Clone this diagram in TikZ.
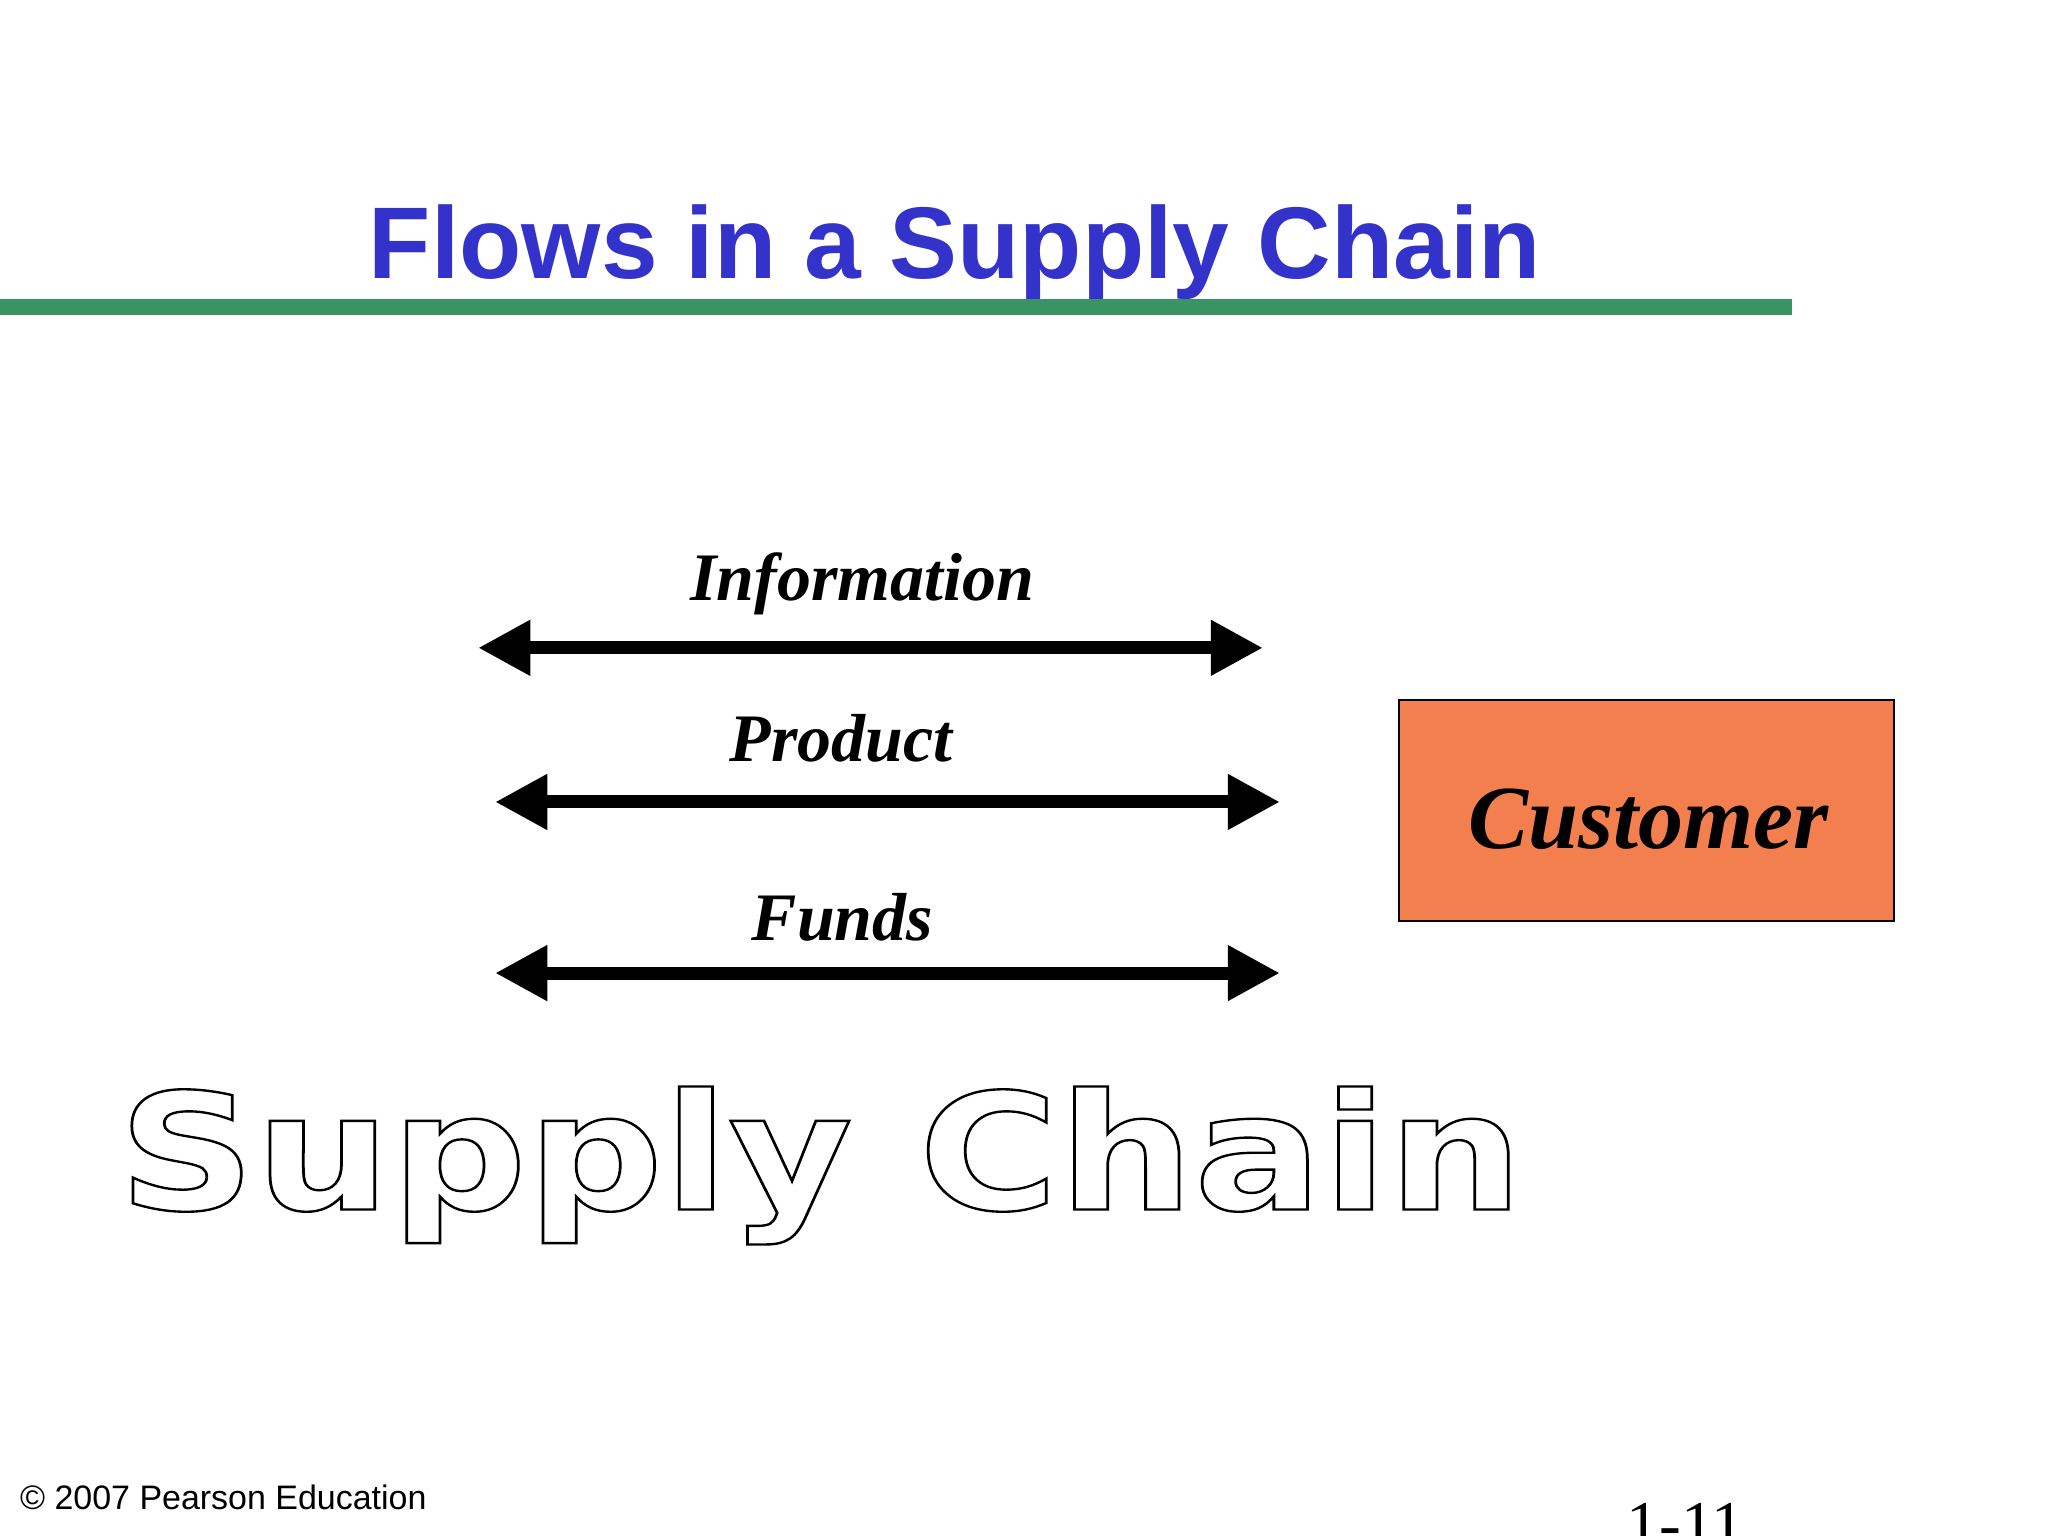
\documentclass[tikz,border=0pt]{standalone}
\usepackage{fontspec}
\setmainfont{Liberation Serif}
\setsansfont{Liberation Sans}
\newfontfamily\bigsans{DejaVu Sans}
\usetikzlibrary{arrows.meta}
\definecolor{titleblue}{HTML}{3333CC}
\definecolor{lgreen}{HTML}{3A9362}
\definecolor{custorange}{HTML}{F47F4E}
\tikzset{
  flow/.style={line width=5pt,{Triangle[length=20pt,width=20pt]}-{Triangle[length=20pt,width=20pt]}},
  flowlabel/.style={font=\fontsize{26}{29}\selectfont\bfseries\itshape,anchor=base},
}
\begin{document}
\begin{tikzpicture}[x=0.5pt,y=-0.5pt]
\useasboundingbox (0,0) rectangle (1568,1176);
\node[anchor=base,text=titleblue,font=\sffamily\bfseries\fontsize{39}{43}\selectfont] (title) at (731,213) {Flows in a Supply Chain};
\draw[lgreen,line width=6pt] (0,235) -- (1372,235) coordinate (gl);
\node[flowlabel] (li) at (660,460) {Information};
\coordinate (a1) at (366,496); \coordinate (b1) at (967,496);
\draw[flow] (a1) -- (b1);
\node[flowlabel] (lp) at (644,583) {Product};
\coordinate (a2) at (379,614); \coordinate (b2) at (980,614);
\draw[flow] (a2) -- (b2);
\node[flowlabel] (lf) at (645,720) {Funds};
\coordinate (a3) at (379,745); \coordinate (b3) at (980,745);
\draw[flow] (a3) -- (b3);
\node[draw,line width=1pt,fill=custorange,minimum width=189.5pt,minimum height=84.5pt] (cust) at (1260.5,620.5) {};
\node[anchor=base,font=\fontsize{34.5}{38}\selectfont\bfseries\itshape] (custlabel) at (1262,650) {Customer};
\node[anchor=base west,inner sep=0pt,font=\bigsans\bfseries\fontsize{62}{70}\selectfont,xscale=1.175] (sc) at (90,926) {\special{pdf:code 1 Tr 0.9 w}Supply Chain\special{pdf:code 0 Tr}};
\node[anchor=base west,inner sep=0pt,font=\sffamily\fontsize{13}{15}\selectfont] (copy) at (15,1156) {© 2007 Pearson Education};
\node[anchor=base west,inner sep=0pt,font=\fontsize{25}{28}\selectfont] (pg) at (1245,1184) {1-11};
\end{tikzpicture}
\end{document}
